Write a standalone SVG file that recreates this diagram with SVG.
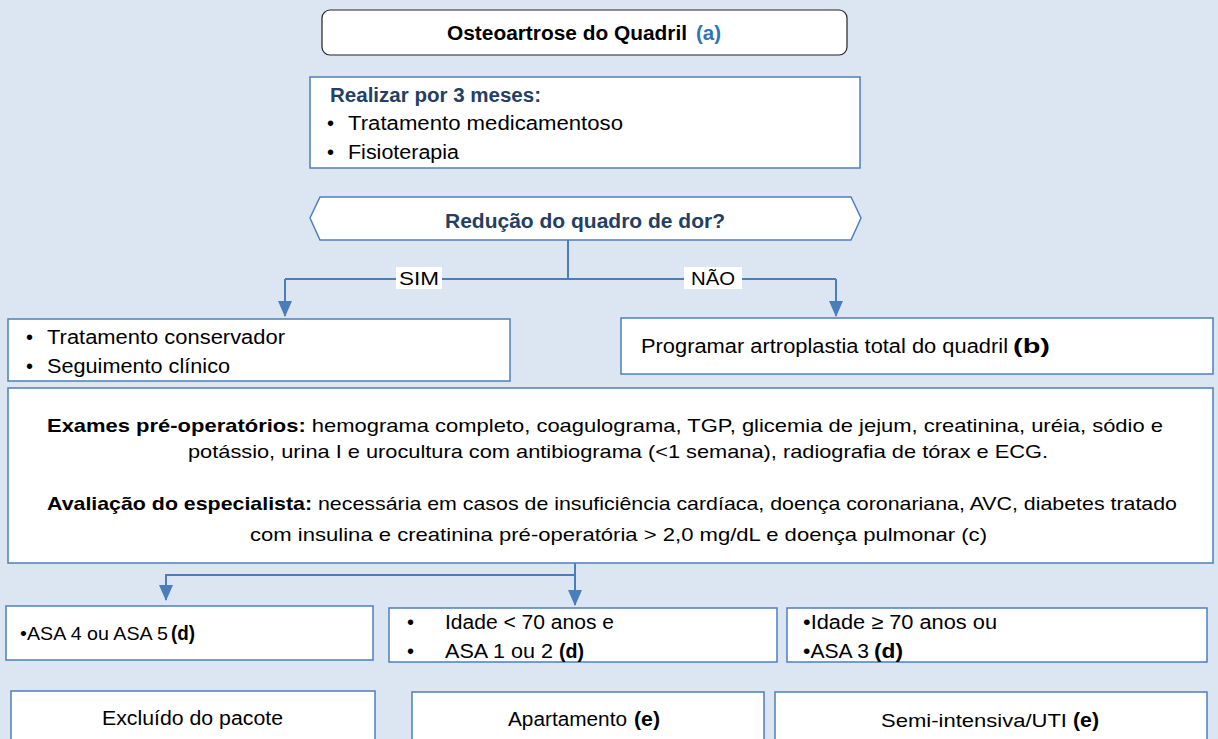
<svg xmlns="http://www.w3.org/2000/svg" width="1218" height="739" viewBox="0 0 1218 739">
<defs>
<style>
.box{fill:#fff;stroke:#4f7fbc;stroke-width:1.5}
.t{font-family:"Liberation Sans",Arial,sans-serif;font-size:19px;fill:#000}
.L{font-size:20px}
.b{font-weight:bold}
.db{fill:#243f63;font-weight:bold}
.c{text-anchor:middle}
.con{fill:none;stroke:#4a7ebb;stroke-width:2}
.lbl{fill:#fff}
</style>
<marker id="arr" markerWidth="16" markerHeight="14" refX="15" refY="7" orient="auto" markerUnits="userSpaceOnUse" viewBox="0 0 16 14">
<path d="M0,0 L16,7 L0,14 Z" fill="#4a7ebb"/>
</marker>
</defs>
<rect width="1218" height="739" fill="#dce6f2"/>

<g id="n-osteo">
<rect x="322" y="10" width="525" height="45" rx="8" fill="#fff" stroke="#222" stroke-width="1.2"/>
<text class="t L b" x="447" y="40" textLength="240" lengthAdjust="spacingAndGlyphs">Osteoartrose do Quadril</text>
<text class="t L b" x="696" y="40" style="fill:#2e75b6" textLength="25" lengthAdjust="spacingAndGlyphs">(a)</text>
</g>

<g id="n-realizar">
<rect class="box" x="310" y="77" width="550" height="91"/>
<text class="t L db" x="330" y="102" textLength="211" lengthAdjust="spacingAndGlyphs">Realizar por 3 meses:</text>
<text class="t L" x="327" y="130">•</text>
<text class="t L" x="348" y="130" textLength="275" lengthAdjust="spacingAndGlyphs">Tratamento medicamentoso</text>
<text class="t L" x="327" y="159">•</text>
<text class="t L" x="348" y="159" textLength="111" lengthAdjust="spacingAndGlyphs">Fisioterapia</text>
</g>

<g id="n-reducao">
<polygon points="320,197 851,197 861,218 851,240 320,240 310,218" fill="#fff" stroke="#4f7fbc" stroke-width="1.5"/>
<text class="t L db" x="445" y="228" textLength="280" lengthAdjust="spacingAndGlyphs">Redução  do quadro de dor?</text>
</g>

<g id="connectors">
<path class="con" d="M568,240 V279"/>
<path class="con" d="M285,279 H836"/>
<path class="con" d="M285,279 V316" marker-end="url(#arr)"/>
<path class="con" d="M836,279 V316" marker-end="url(#arr)"/>
<rect class="lbl" x="396" y="267" width="46" height="22"/>
<text class="t" x="399" y="285" textLength="40" lengthAdjust="spacingAndGlyphs">SIM</text>
<rect class="lbl" x="684" y="267" width="58" height="22"/>
<text class="t" x="691" y="285" textLength="44" lengthAdjust="spacingAndGlyphs">NÃO</text>
<path class="con" d="M575,563 V605" marker-end="url(#arr)"/>
<path class="con" d="M575,575 H166 V600" marker-end="url(#arr)"/>
</g>

<g id="n-conservador">
<rect class="box" x="8" y="319" width="502" height="62"/>
<text class="t L" x="26" y="344">•</text>
<text class="t L" x="47" y="344" textLength="238" lengthAdjust="spacingAndGlyphs">Tratamento conservador</text>
<text class="t L" x="26" y="373">•</text>
<text class="t L" x="47" y="373" textLength="183" lengthAdjust="spacingAndGlyphs">Seguimento clínico</text>
</g>

<g id="n-artroplastia">
<rect class="box" x="621" y="318" width="592" height="56"/>
<text class="t L" x="641" y="353" textLength="367" lengthAdjust="spacingAndGlyphs">Programar artroplastia total do quadril</text>
<text class="t L b" x="1013" y="353" textLength="37" lengthAdjust="spacingAndGlyphs">(b)</text>
</g>

<g id="n-exames">
<rect class="box" x="8" y="388" width="1205" height="175"/>
<text class="t" x="47" y="432" textLength="1116" lengthAdjust="spacingAndGlyphs"><tspan class="b">Exames pré-operatórios:</tspan> hemograma completo, coagulograma, TGP, glicemia de jejum, creatinina, uréia, sódio e</text>
<text class="t" x="188" y="458" textLength="860" lengthAdjust="spacingAndGlyphs">potássio, urina I e urocultura com antibiograma (&lt;1 semana), radiografia de tórax e ECG.</text>
<text class="t" x="47" y="510" textLength="1130" lengthAdjust="spacingAndGlyphs"><tspan class="b">Avaliação do especialista:</tspan> necessária em casos de insuficiência cardíaca, doença coronariana, AVC, diabetes tratado</text>
<text class="t" x="250" y="541" textLength="737" lengthAdjust="spacingAndGlyphs">com insulina e creatinina pré-operatória &gt; 2,0 mg/dL e doença pulmonar (c)</text>
</g>

<g id="n-asa45">
<rect class="box" x="6" y="606" width="367" height="54"/>
<text class="t" x="20" y="640" textLength="148" lengthAdjust="spacingAndGlyphs">•ASA 4 ou ASA 5</text>
<text class="t L b" x="171" y="640" textLength="24" lengthAdjust="spacingAndGlyphs">(d)</text>
</g>

<g id="n-asa12">
<rect class="box" x="389" y="608" width="388" height="54"/>
<text class="t L" x="407" y="629">•</text>
<text class="t L" x="445" y="629" textLength="169" lengthAdjust="spacingAndGlyphs">Idade &lt; 70 anos e</text>
<text class="t L" x="407" y="658">•</text>
<text class="t L" x="445" y="658" textLength="108" lengthAdjust="spacingAndGlyphs">ASA 1 ou 2</text>
<text class="t L b" x="559" y="658" textLength="25" lengthAdjust="spacingAndGlyphs">(d)</text>
</g>

<g id="n-asa3">
<rect class="box" x="787" y="608" width="420" height="54"/>
<text class="t L" x="803" y="629" textLength="194" lengthAdjust="spacingAndGlyphs">•Idade ≥ 70 anos ou</text>
<text class="t L" x="803" y="658" textLength="66" lengthAdjust="spacingAndGlyphs">•ASA 3</text>
<text class="t L b" x="874" y="658" textLength="29" lengthAdjust="spacingAndGlyphs">(d)</text>
</g>

<g id="n-excluido">
<rect class="box" x="11" y="691" width="364" height="60"/>
<text class="t L" x="102" y="725" textLength="181" lengthAdjust="spacingAndGlyphs">Excluído do pacote</text>
</g>

<g id="n-apartamento">
<rect class="box" x="412" y="692" width="352" height="60"/>
<text class="t L" x="508" y="726" textLength="119" lengthAdjust="spacingAndGlyphs">Apartamento</text>
<text class="t L b" x="634" y="726" textLength="26" lengthAdjust="spacingAndGlyphs">(e)</text>
</g>

<g id="n-uti">
<rect class="box" x="775" y="692" width="432" height="60"/>
<text class="t" x="881" y="727" textLength="186" lengthAdjust="spacingAndGlyphs">Semi-intensiva/UTI</text>
<text class="t L b" x="1073" y="727" textLength="26" lengthAdjust="spacingAndGlyphs">(e)</text>
</g>
</svg>
